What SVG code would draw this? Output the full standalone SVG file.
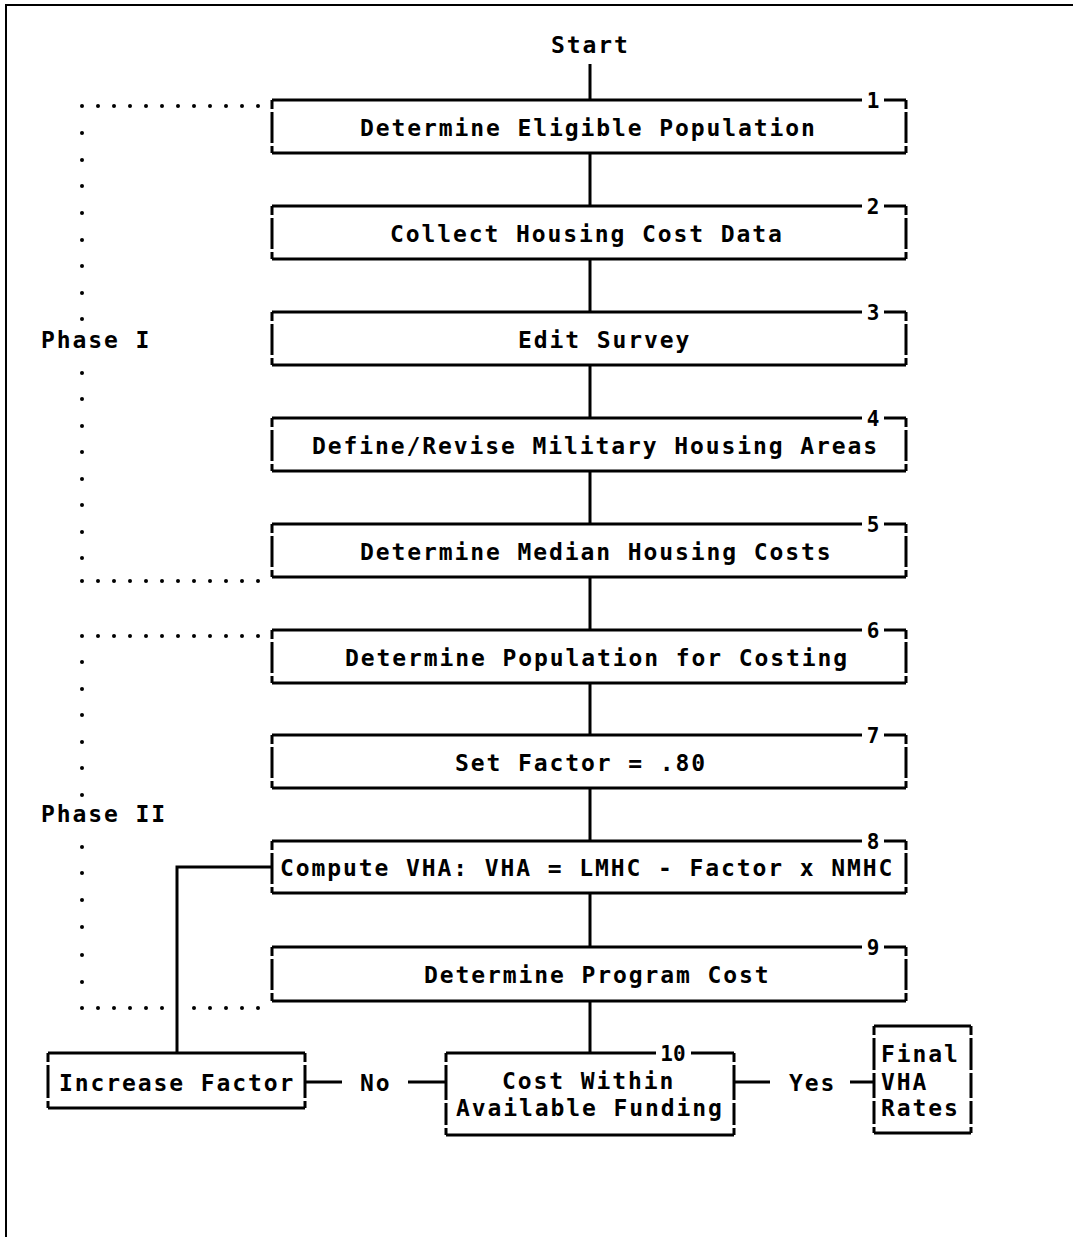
<svg xmlns="http://www.w3.org/2000/svg" width="1073" height="1237" viewBox="0 0 1073 1237">
<style>
.t{font-family:"DejaVu Sans Mono","Liberation Mono",monospace;font-weight:bold;font-size:23px;letter-spacing:1.9px;fill:#000}
.n{font-family:"DejaVu Sans Mono","Liberation Mono",monospace;font-weight:bold;font-size:21px;fill:#000;text-anchor:middle}
.ln{stroke:#000;stroke-width:3;fill:none}
.pg{stroke:#000;stroke-width:2;fill:none}
.dt{fill:#000}
</style>
<defs>
<circle id="d" r="2" class="dt"/>
</defs>
<rect width="1073" height="1237" fill="#fff"/>
<g id="page"><path class="pg" d="M5 5H1073M6 5V1237"/></g>

<g id="start"><text class="t" x="551" y="53">Start</text></g>

<g id="n1"><path class="ln" d="M272 100H862M884 100H906M272 100V109M272 112V143M272 146V153M906 100V109M906 112V143M906 146V153M272 153H906"/><text class="n" x="873" y="108">1</text><text class="t" x="360" y="136">Determine Eligible Population</text></g>
<g id="n2"><path class="ln" d="M272 206H862M884 206H906M272 206V215M272 218V249M272 252V259M906 206V215M906 218V249M906 252V259M272 259H906"/><text class="n" x="873" y="214">2</text><text class="t" x="390" y="242">Collect Housing Cost Data</text></g>
<g id="n3"><path class="ln" d="M272 312H862M884 312H906M272 312V321M272 324V355M272 358V365M906 312V321M906 324V355M906 358V365M272 365H906"/><text class="n" x="873" y="320">3</text><text class="t" x="518" y="348">Edit Survey</text></g>
<g id="n4"><path class="ln" d="M272 418H862M884 418H906M272 418V427M272 430V461M272 464V471M906 418V427M906 430V461M906 464V471M272 471H906"/><text class="n" x="873" y="426">4</text><text class="t" x="312" y="454">Define/Revise Military Housing Areas</text></g>
<g id="n5"><path class="ln" d="M272 524H862M884 524H906M272 524V533M272 536V567M272 570V577M906 524V533M906 536V567M906 570V577M272 577H906"/><text class="n" x="873" y="532">5</text><text class="t" x="360" y="560">Determine Median Housing Costs</text></g>
<g id="n6"><path class="ln" d="M272 630H862M884 630H906M272 630V639M272 642V673M272 676V683M906 630V639M906 642V673M906 676V683M272 683H906"/><text class="n" x="873" y="638">6</text><text class="t" x="345" y="666">Determine Population for Costing</text></g>
<g id="n7"><path class="ln" d="M272 735H862M884 735H906M272 735V744M272 747V778M272 781V788M906 735V744M906 747V778M906 781V788M272 788H906"/><text class="n" x="873" y="743">7</text><text class="t" x="455" y="771">Set Factor = .80</text></g>
<g id="n8"><path class="ln" d="M272 841H862M884 841H906M272 841V850M272 853V884M272 887V893M906 841V850M906 853V884M906 887V893M272 893H906"/><text class="n" x="873" y="849">8</text><text class="t" x="280" y="876">Compute VHA: VHA = LMHC - Factor x NMHC</text></g>
<g id="n9"><path class="ln" d="M272 947H862M884 947H906M272 947V956M272 959V990M272 993V1001M906 947V956M906 959V990M906 993V1001M272 1001H906"/><text class="n" x="873" y="955">9</text><text class="t" x="424" y="983">Determine Program Cost</text></g>

<g id="n10"><path class="ln" d="M446 1053H656M691 1053H734M446 1053V1062M446 1065V1100M446 1103V1125M446 1128V1135M734 1053V1062M734 1065V1100M734 1103V1125M734 1128V1135M446 1135H734"/><text class="n" x="673" y="1061">10</text><text class="t" x="502" y="1089">Cost Within</text><text class="t" x="456" y="1116">Available Funding</text></g>
<g id="inc"><path class="ln" d="M48 1053H305M48 1053V1062M48 1065V1098M48 1101V1108M305 1053V1062M305 1065V1098M305 1101V1108M48 1108H305"/><text class="t" x="59" y="1091">Increase Factor</text></g>
<g id="final"><path class="ln" d="M874 1026H971M874 1026V1035M874 1038V1070M874 1073V1098M874 1101V1124M874 1127V1133M971 1026V1035M971 1038V1070M971 1073V1098M971 1101V1124M971 1127V1133M874 1133H971"/><text class="t" x="881" y="1062">Final</text><text class="t" x="881" y="1090">VHA</text><text class="t" x="881" y="1116">Rates</text></g>

<g id="phase1"><text class="t" x="41" y="348">Phase I</text>
<g>
<use href="#d" x="82" y="106"/><use href="#d" x="98" y="106"/><use href="#d" x="114" y="106"/><use href="#d" x="130" y="106"/><use href="#d" x="146" y="106"/><use href="#d" x="162" y="106"/><use href="#d" x="178" y="106"/><use href="#d" x="194" y="106"/><use href="#d" x="210" y="106"/><use href="#d" x="226" y="106"/><use href="#d" x="242" y="106"/><use href="#d" x="258" y="106"/>
<use href="#d" x="82" y="133"/><use href="#d" x="82" y="160"/><use href="#d" x="82" y="186"/><use href="#d" x="82" y="213"/><use href="#d" x="82" y="240"/><use href="#d" x="82" y="266"/><use href="#d" x="82" y="293"/><use href="#d" x="82" y="319"/>
<use href="#d" x="82" y="373"/><use href="#d" x="82" y="399"/><use href="#d" x="82" y="426"/><use href="#d" x="82" y="452"/><use href="#d" x="82" y="479"/><use href="#d" x="82" y="505"/><use href="#d" x="82" y="532"/><use href="#d" x="82" y="558"/>
<use href="#d" x="82" y="581"/><use href="#d" x="98" y="581"/><use href="#d" x="114" y="581"/><use href="#d" x="130" y="581"/><use href="#d" x="146" y="581"/><use href="#d" x="162" y="581"/><use href="#d" x="178" y="581"/><use href="#d" x="194" y="581"/><use href="#d" x="210" y="581"/><use href="#d" x="226" y="581"/><use href="#d" x="242" y="581"/><use href="#d" x="258" y="581"/>
</g></g>

<g id="phase2"><text class="t" x="41" y="822">Phase II</text>
<g>
<use href="#d" x="82" y="636"/><use href="#d" x="98" y="636"/><use href="#d" x="114" y="636"/><use href="#d" x="130" y="636"/><use href="#d" x="146" y="636"/><use href="#d" x="162" y="636"/><use href="#d" x="178" y="636"/><use href="#d" x="194" y="636"/><use href="#d" x="210" y="636"/><use href="#d" x="226" y="636"/><use href="#d" x="242" y="636"/><use href="#d" x="258" y="636"/>
<use href="#d" x="82" y="662"/><use href="#d" x="82" y="689"/><use href="#d" x="82" y="715"/><use href="#d" x="82" y="742"/><use href="#d" x="82" y="768"/><use href="#d" x="82" y="795"/>
<use href="#d" x="82" y="847"/><use href="#d" x="82" y="873"/><use href="#d" x="82" y="900"/><use href="#d" x="82" y="927"/><use href="#d" x="82" y="955"/><use href="#d" x="82" y="982"/>
<use href="#d" x="82" y="1008"/><use href="#d" x="98" y="1008"/><use href="#d" x="114" y="1008"/><use href="#d" x="130" y="1008"/><use href="#d" x="146" y="1008"/><use href="#d" x="162" y="1008"/><use href="#d" x="194" y="1008"/><use href="#d" x="210" y="1008"/><use href="#d" x="226" y="1008"/><use href="#d" x="242" y="1008"/><use href="#d" x="258" y="1008"/>
</g></g>

<g id="connectors">
<path class="ln" d="M590 64V100M590 153V206M590 259V312M590 365V418M590 471V524M590 577V630M590 683V735M590 788V841M590 893V947M590 1001V1053"/>
<path class="ln" d="M272 867H177V1053"/>
<path class="ln" d="M305 1082H342M408 1082H446"/>
<path class="ln" d="M734 1082H770M850 1082H874"/>
<text class="t" x="360" y="1091">No</text>
<text class="t" x="789" y="1091">Yes</text>
</g>
</svg>
